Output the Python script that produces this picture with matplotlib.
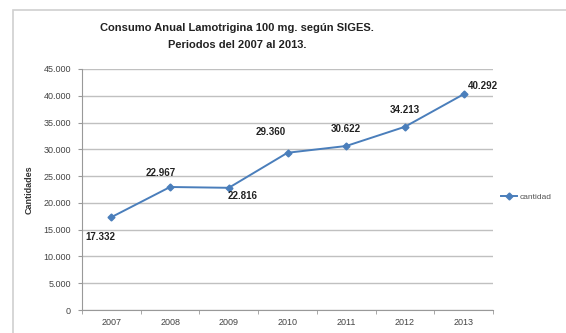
import matplotlib.pyplot as plt
from matplotlib.patches import Rectangle
from matplotlib.ticker import FuncFormatter

years = ["2007", "2008", "2009", "2010", "2011", "2012", "2013"]
cantidad = [17332, 22967, 22816, 29360, 30622, 34213, 40292]
etiquetas = ["17.332", "22.967", "22.816", "29.360", "30.622", "34.213", "40.292"]
# offset (points) of each data label from its point
offsets = [(-8, -14), (-7, 10), (10, -6), (-12, 15), (0, 12), (0, 12), (14, 6)]

plt.rcParams["font.family"] = ["Liberation Sans", "DejaVu Sans"]

fig = plt.figure(figsize=(5.66, 3.33), dpi=100)
ax = fig.add_axes([82/566, 1-310/333, (493-82)/566, (310-69)/333])

# outer chart frame
fig.patches.append(Rectangle((13/566, -0.1), 1.2, 1-10/333+0.1, transform=fig.transFigure,
                             fill=False, edgecolor="#d0d0d0", lw=1.2))

x = range(len(years))
ax.plot(x, cantidad, color="#4a7ebb", lw=1.4, marker="D", ms=3.5,
        markerfacecolor="#4a7ebb", markeredgecolor="#4a7ebb", label="cantidad")

for i, (v, t) in enumerate(zip(cantidad, etiquetas)):
    ax.annotate(t, (i, v), xytext=offsets[i], textcoords="offset points",
                ha="center", va="center", fontsize=7, fontweight="bold", color="#222222")

ax.set_xlim(-0.5, 6.5)
ax.set_ylim(0, 45000)
ax.set_yticks(range(0, 45001, 5000))
ax.yaxis.set_major_formatter(FuncFormatter(lambda v, p: f"{int(v):,}".replace(",", ".")))
ax.set_xticks(list(x))
ax.set_xticklabels(years)
ax.set_xticks([i + 0.5 for i in range(-1, 7)], minor=True)
ax.tick_params(axis="x", which="major", length=0, labelsize=6.5, colors="#444444", pad=6)
ax.tick_params(axis="x", which="minor", length=3, color="#999999")
ax.tick_params(axis="y", length=3, labelsize=6.5, colors="#444444", pad=5, color="#999999")

ax.grid(axis="y", color="#c0c0c0", lw=1)
ax.set_axisbelow(True)
for s in ["top", "right"]:
    ax.spines[s].set_visible(False)
ax.spines["left"].set_color("#999999")
ax.spines["bottom"].set_color("#999999")

ax.set_ylabel("Cantidades", fontsize=6.5, fontweight="bold", color="#333333", labelpad=7)

fig.text(237/566, 1-28/333, "Consumo Anual Lamotrigina 100 mg. según SIGES.",
         ha="center", va="center", fontsize=8, fontweight="bold", color="#222222")
fig.text(237/566, 1-45/333, "Periodos del 2007 al 2013.",
         ha="center", va="center", fontsize=8, fontweight="bold", color="#222222")

ax.legend(loc="center left", bbox_to_anchor=(1.0, 0.47), frameon=False, fontsize=6,
          handlelength=2.0, handletextpad=0.3, labelcolor="#555555")

fig.savefig("out.png", dpi=100)
